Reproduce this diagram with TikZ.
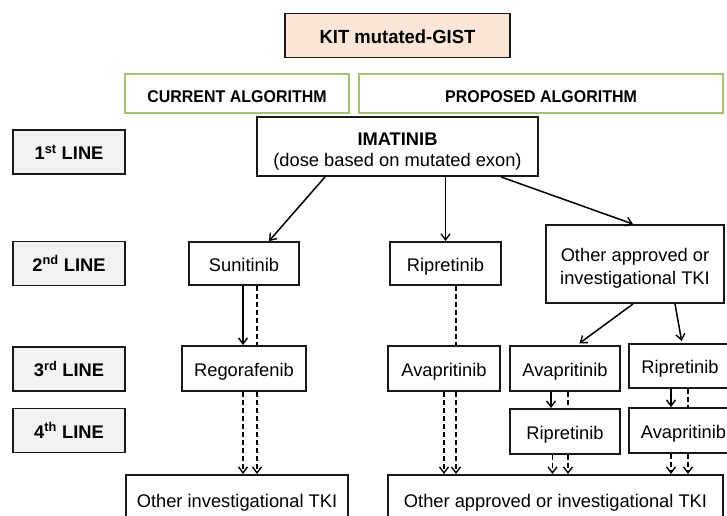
\documentclass[tikz,border=0pt]{standalone}
\usepackage{fontspec}
\setmainfont{Liberation Sans}
\usetikzlibrary{arrows.meta}
\definecolor{peach}{HTML}{FBE5D6}
\definecolor{hdrgreen}{HTML}{A3C373}
\definecolor{lblgray}{HTML}{F2F2F2}
\begin{document}
\begin{tikzpicture}[x=1pt,y=-1pt,
  boxm/.style={draw=black!90, line width=1.9pt, inner sep=0pt, align=center, font=\fontsize{18.3}{23}\selectfont},
  box/.style={boxm, text height=15.5pt, text depth=0pt},
  hdr/.style={draw=hdrgreen, line width=2pt, inner sep=0pt, align=center, text height=17pt, text depth=0pt, font=\fontsize{17}{19}\selectfont\bfseries\addfontfeature{FakeStretch=0.94}},
  lbl/.style={box, fill=lblgray, minimum width=112pt, minimum height=44pt, font=\fontsize{18.3}{22}\selectfont\bfseries},
  arr/.style={line width=1.5pt, -{Straight Barb[length=6pt,width=9pt,line width=1.4pt]}},
  darr/.style={arr, dash pattern=on 5pt off 3pt},
  dln/.style={line width=1.5pt, dash pattern=on 5pt off 3pt}
]
\useasboundingbox (0,0) rectangle (727,515);
% header
\node[box, fill=peach, minimum width=225pt, minimum height=44pt, text height=16.5pt, font=\fontsize{19}{22}\selectfont\bfseries\addfontfeature{FakeStretch=0.97}] (kit) at (397.5,35.5) {KIT mutated-GIST};
\node[hdr, minimum width=224pt, minimum height=39pt] (cur) at (237,93.5) {CURRENT ALGORITHM};
\node[hdr, minimum width=364pt, minimum height=39pt] (prop) at (541,93.5) {PROPOSED ALGORITHM};
% line labels
\node[lbl] (l1) at (69,152) {1\textsuperscript{st} LINE};
\node[lbl] (l2) at (69,263.5) {2\textsuperscript{nd} LINE};
\node[lbl] (l3) at (69,369) {3\textsuperscript{rd} LINE};
\node[lbl] (l4) at (69,430.5) {4\textsuperscript{th} LINE};
% first line
\node[boxm, minimum width=281pt, minimum height=59pt, font=\fontsize{18.3}{21}\selectfont] (ima) at (397.5,146.5) {\rule{0pt}{22pt}\textbf{IMATINIB}\\(dose based on mutated exon)};
% second line
\node[box, minimum width=110pt, minimum height=43pt] (sun) at (244,263.5) {Sunitinib};
\node[box, minimum width=111pt, minimum height=43pt] (rip2) at (445.5,263.5) {Ripretinib};
\node[boxm, minimum width=178pt, minimum height=78pt] (oth2) at (635,264) {\rule{0pt}{21.8pt}Other approved or\\investigational TKI};
% third line
\node[box, minimum width=124pt, minimum height=45pt] (rego) at (244,368.5) {Regorafenib};
\node[box, minimum width=112pt, minimum height=45pt] (ava3m) at (444,368.5) {Avapritinib};
\node[box, minimum width=110pt, minimum height=45pt] (ava3r) at (565,368.5) {Avapritinib};
\node[box, minimum width=102pt, minimum height=44pt] (rip3r) at (680,366) {Ripretinib};
% fourth line
\node[box, minimum width=110pt, minimum height=45pt] (rip4) at (565,431.5) {Ripretinib};
\node[box, minimum width=109pt, minimum height=45pt] (ava4) at (683.5,430.5) {Avapritinib};
% bottom
\node[box, minimum width=222pt, minimum height=50pt] (othinv) at (237,500) {Other investigational TKI};
\node[box, minimum width=335pt, minimum height=50pt] (othapp) at (555.5,500) {Other approved or investigational TKI};
% arrows from imatinib
\draw[arr] ([xshift=-72.5pt]ima.south) -- ([xshift=25pt]sun.north);
\draw[arr] (ima.south -| rip2.north) -- (rip2.north);
\draw[arr] ([xshift=103.5pt]ima.south) -- ([xshift=-2pt]oth2.north);
% current algorithm
\draw[arr] ([xshift=-1pt]sun.south) -- ([xshift=-1pt]rego.north);
\draw[dln] ([xshift=13pt]sun.south) -- ([xshift=13pt]rego.north);
\draw[darr] ([xshift=-1pt]rego.south) -- ([xshift=-1pt]rego.south |- othinv.north);
\draw[darr] ([xshift=13pt]rego.south) -- ([xshift=13pt]rego.south |- othinv.north);
% proposed: ripretinib branch
\draw[dln] ([xshift=10.5pt]rip2.south) -- ([xshift=10.5pt]rip2.south |- ava3m.north);
\draw[darr] (ava3m.south) -- (ava3m.south |- othapp.north);
\draw[darr] ([xshift=12pt]ava3m.south) -- ([xshift=12pt]ava3m.south |- othapp.north);
% proposed: other TKI branch
\draw[arr, shorten >=3pt] ([xshift=-2pt]oth2.south) -- ([xshift=12pt]ava3r.north);
\draw[arr, shorten >=2pt] ([xshift=40pt]oth2.south) -- ([xshift=2pt]rip3r.north);
\draw[arr] ([xshift=-14pt]ava3r.south) -- ([xshift=-14pt]ava3r.south |- rip4.north);
\draw[dln] ([xshift=3pt]ava3r.south) -- ([xshift=3pt]ava3r.south |- rip4.north);
\draw[arr] ([xshift=-9pt]rip3r.south) -- ([xshift=-9pt]rip3r.south |- ava4.north);
\draw[dln] ([xshift=8pt]rip3r.south) -- ([xshift=8pt]rip3r.south |- ava4.north);
\draw[darr] ([xshift=-12.5pt]rip4.south) -- ([xshift=-12.5pt]rip4.south |- othapp.north);
\draw[darr] ([xshift=3pt]rip4.south) -- ([xshift=3pt]rip4.south |- othapp.north);
\draw[darr] ([xshift=-12.5pt]ava4.south) -- ([xshift=-12.5pt]ava4.south |- othapp.north);
\draw[darr] ([xshift=4.5pt]ava4.south) -- ([xshift=4.5pt]ava4.south |- othapp.north);
\end{tikzpicture}
\end{document}
